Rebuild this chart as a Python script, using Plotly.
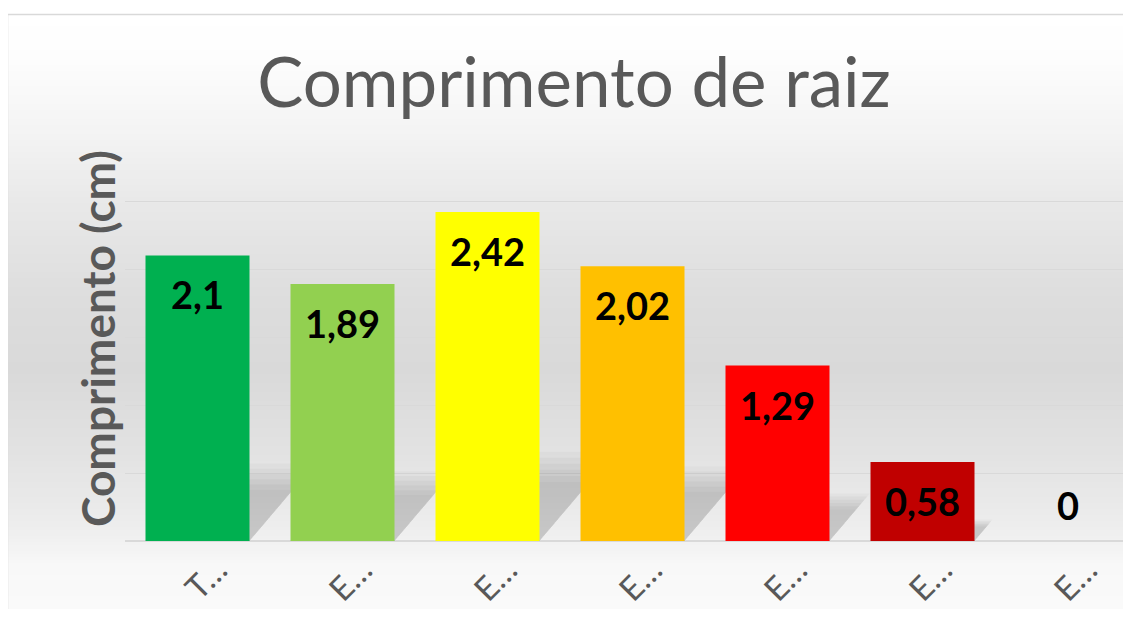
import plotly.graph_objects as go

# ---- data ----
categories = ["T…", "E…", "E…", "E…", "E…", "E…", "E…"]
values = [2.1, 1.89, 2.42, 2.02, 1.29, 0.58, 0]
bar_colors = ["#00B050", "#92D050", "#FFFF00", "#FFC000", "#FF0000", "#C00000", "#7F7F7F"]
title_text = "Comprimento de raiz"
y_title = "Comprimento (cm)"

# ---- layout geometry (px, figure coordinates; page adds an 8px body margin) ----
OFF = 8
W, H = 1131 - 2 * OFF, 617 - 2 * OFF
L, R, T, B = 125 - OFF, W, 133 - OFF, 541 - OFF
pw, ph = R - L, B - T
ymax = 3.0
x_range = [-0.5, -0.5 + pw / 145.0]
px_per_x = pw / (x_range[1] - x_range[0])
px_per_y = ph / ymax


def paper_x(px):
    return (px - L) / pw


def paper_y(py):
    return (B - py) / ph


def hexc(c):
    return tuple(int(c[i:i + 2], 16) for i in (1, 3, 5))


# background gradient stops (figure pixel y, color)
stops = [(-10, "#ffffff"), (6, "#ffffff"), (52, "#fdfdfd"), (122, "#f4f4f4"),
         (192, "#e9e9e9"), (292, "#dddddd"), (362, "#d9d9d9"), (442, "#e2e2e2"),
         (512, "#ececec"), (533, "#f1f1f1"), (557, "#f8f8f8"), (620, "#fbfbfb")]

shapes = []
step = 3
y = 6
while y < H:
    yc = y + step / 2
    for (ya, ca), (yb, cb) in zip(stops[:-1], stops[1:]):
        if ya <= yc <= yb:
            t = (yc - ya) / (yb - ya) if yb > ya else 0
            a, b = hexc(ca), hexc(cb)
            col = "rgb(%d,%d,%d)" % tuple(round(a[k] + (b[k] - a[k]) * t) for k in range(3))
            break
    shapes.append(dict(type="rect", xref="paper", yref="paper", layer="below",
                       x0=paper_x(-1), x1=paper_x(W + 10),
                       y0=paper_y(y + step + 0.5), y1=paper_y(y),
                       fillcolor=col, line=dict(width=0)))
    y += step

# chart frame
shapes.append(dict(type="rect", xref="paper", yref="paper", layer="below",
                   x0=paper_x(-0.5), x1=paper_x(W + 20), y0=paper_y(H + 20), y1=paper_y(6.5),
                   fillcolor="rgba(0,0,0,0)", line=dict(color="#d9d9d9", width=1.5)))

# perspective shadows behind bars (soft, layered)
hw = 0.5 * (104 / 145.0)
layers = [(1.18, 0.025), (1.10, 0.03), (1.02, 0.03), (0.94, 0.03), (0.86, 0.03), (0.78, 0.025)]
for i, v in enumerate(values):
    if v <= 0:
        continue
    for scale, op in layers:
        hs = 0.23 * v * scale
        dx = 0.85 * hs * px_per_y / px_per_x
        path = "M %f,0 L %f,0 L %f,%f L %f,%f Z" % (
            i - hw, i + hw, i + hw + dx, hs, i - hw + dx, hs)
        shapes.append(dict(type="path", xref="x", yref="y", layer="between", path=path,
                           fillcolor="rgba(0,0,0,%f)" % op, line=dict(width=0)))

fig = go.Figure()
fig.add_trace(go.Bar(
    x=list(range(len(values))), y=values,
    marker=dict(color=bar_colors, line=dict(width=0)),
    width=104 / 145.0, hoverinfo="skip", showlegend=False,
))

annotations = []
for i, v in enumerate(values):
    label = ("%g" % v).replace(".", ",")
    annotations.append(dict(x=i, y=v, xref="x", yref="y", text="<b>%s</b>" % label,
                            showarrow=False, yanchor="middle",
                            yshift=-39 if v > 0 else 36,
                            font=dict(family="Lato", size=38, color="#000000")))

# y-axis title (placed as rotated text beside the plot)
annotations.append(dict(x=paper_x(97 - OFF), y=paper_y(339 - OFF), xref="paper", yref="paper",
                        text="<b>%s</b>" % y_title, textangle=-90, showarrow=False,
                        xanchor="center", yanchor="middle",
                        font=dict(family="Lato", size=46, color="#595959")))

fig.update_layout(
    width=W, height=H,
    margin=dict(l=L, r=W - R, t=T, b=H - B, pad=0, autoexpand=False),
    paper_bgcolor="#ffffff", plot_bgcolor="rgba(0,0,0,0)",
    shapes=shapes, annotations=annotations,
    title=dict(text=title_text, x=paper_x(574 - OFF), xref="paper", xanchor="center",
               y=1 - (83 - OFF) / H, yref="container", yanchor="middle", automargin=False,
               font=dict(family="Lato", size=69, color="#595959")),
    xaxis=dict(range=x_range, tickmode="array", tickvals=list(range(len(categories))),
               ticktext=categories, tickangle=-45, showgrid=False, zeroline=False,
               showline=False, ticks="", ticklabelshift=20, ticklabelstandoff=2,
               automargin=False,
               tickfont=dict(family="Lato", size=33, color="#595959")),
    yaxis=dict(range=[0, ymax], dtick=0.5, showticklabels=False, ticks="",
               showgrid=True, gridcolor="#d9d9d9", gridwidth=1, automargin=False,
               zeroline=True, zerolinecolor="#d9d9d9", zerolinewidth=1.5),
    bargap=0.28,
)

fig.write_html("out.html")
